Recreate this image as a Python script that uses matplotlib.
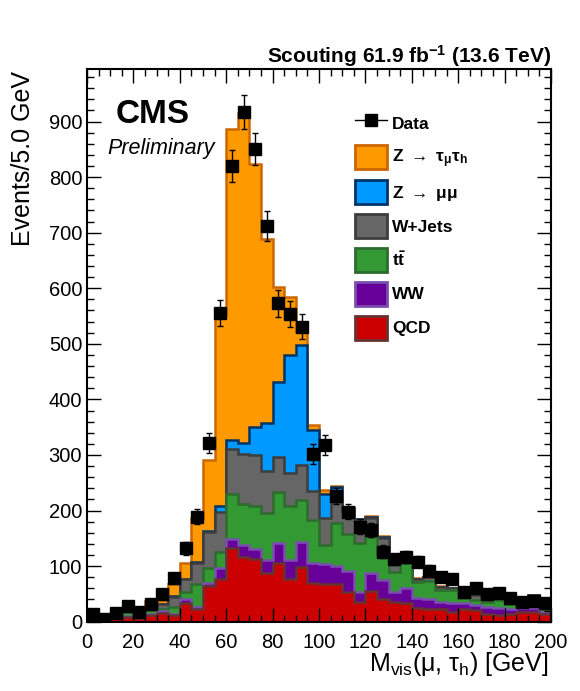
import numpy as np
import matplotlib.pyplot as plt
from matplotlib.patches import Patch
from matplotlib.lines import Line2D
from matplotlib.ticker import MultipleLocator

plt.rcParams.update({
    'font.family': ['Liberation Sans', 'DejaVu Sans'],
    'mathtext.fontset': 'custom',
    'mathtext.rm': 'Liberation Sans',
    'mathtext.it': 'Liberation Sans:italic',
    'mathtext.bf': 'Liberation Sans:bold',
})

# 5 GeV bins from 0 to 200 GeV
bin_edges = np.arange(0, 205, 5)

# events per bin
qcd = [3, 2, 6, 9, 7, 12, 15, 12, 34, 23, 64, 76, 132, 117, 112, 88, 106, 76, 99, 70,
       67, 67, 54, 35, 55, 40, 36, 33, 24, 22, 22, 18, 22, 21, 14, 12, 14, 18, 18, 14]
ww = [0, 0, 1, 1, 1, 1, 5, 2, 6, 4, 6, 20, 16, 21, 18, 23, 35, 35, 44, 35,
      36, 33, 38, 19, 32, 35, 17, 27, 18, 18, 14, 15, 11, 9, 13, 12, 8, 6, 6, 3]
ttbar = [1, 0, 3, 8, 1, 8, 3, 13, 14, 41, 26, 30, 82, 74, 78, 84, 92, 97, 76, 78,
         35, 77, 65, 87, 66, 45, 37, 46, 30, 34, 21, 24, 9, 9, 9, 15, 10, 2, 22, 5]
wjets = [0, 1, 2, 1, 1, 5, 9, 18, 22, 38, 66, 72, 80, 90, 92, 77, 64, 60, 63, 52,
         49, 39, 43, 42, 33, 30, 30, 7, 5, 6, 6, 3, 2, 9, 1, 1, 1, 1, 2, 1]
zmumu = [0, 0, 0, 0, 0, 0, 0, 1, 1, 1, 2, 10, 17, 19, 51, 85, 135, 212, 216, 110,
         43, 26, 5, 1, 3, 3, 1, 0, 0, 0, 0, 0, 0, 0, 0, 0, 0, 0, 0, 0]
ztautau = [1, 0, 1, 1, 1, 12, 7, 22, 29, 79, 127, 344, 559, 594, 472, 331, 171, 105, 24, 9,
           7, 2, 1, 1, 1, 2, 1, 1, 1, 1, 1, 0, 1, 0, 0, 0, 0, 0, 0, 0]
data = [14, 4, 15, 28, 18, 31, 49, 79, 132, 189, 322, 556, 820, 917, 851, 712, 573, 553, 531, 302,
        318, 226, 198, 171, 165, 126, 112, 116, 108, 92, 81, 76, 54, 60, 50, 51, 42, 36, 38, 34]

# bottom to top: label, values, fill, outline
samples = [
    ("QCD", qcd, '#cc0000', '#663333'),
    ("WW", ww, '#660099', '#7a4fb0'),
    (r"t$\mathbf{\bar{t}}$", ttbar, '#339933', '#2e6b2e'),
    ("W+Jets", wjets, '#666666', '#3d3d3d'),
    (r"Z $\rightarrow$ $\mathregular{\mu\mu}$", zmumu, '#0099ff', '#003366'),
    (r"Z $\rightarrow$ $\mathregular{\tau_{\mu}\tau}_{\mathbf{h}}$", ztautau, '#ff9900', '#cc6600'),
]

fig = plt.figure(figsize=(5.8, 6.91), dpi=100)
ax = fig.add_axes([0.15, 0.1003, 0.8, 0.7994])

stack = np.cumsum(np.array([s[1] for s in samples], dtype=float), axis=0)
# draw the full sums from the top down, like THStack
for i in reversed(range(len(samples))):
    ax.stairs(stack[i], bin_edges, baseline=0, fill=True,
              facecolor=samples[i][2], edgecolor=samples[i][3], linewidth=1.8)

centers = 0.5 * (bin_edges[1:] + bin_edges[:-1])
data = np.array(data, dtype=float)
ax.errorbar(centers, data, yerr=np.sqrt(data), fmt='s', color='black',
            ms=9, elinewidth=1, capsize=2.5, capthick=1, zorder=10)

ax.set_xlim(0, 200)
ax.set_ylim(0, 994)
ax.xaxis.set_major_locator(MultipleLocator(20))
ax.xaxis.set_minor_locator(MultipleLocator(5))
ax.yaxis.set_major_locator(MultipleLocator(100))
ax.yaxis.set_minor_locator(MultipleLocator(20))
ax.tick_params(which='both', direction='in', top=True, right=True, width=1, labelsize=14.5)
ax.tick_params(which='major', length=10)
ax.tick_params(which='minor', length=5)
ax.tick_params(axis='x', pad=8)
for sp in ax.spines.values():
    sp.set_linewidth(1.5)

# legend
handles = [Line2D([], [], color='black', marker='s', ms=9, lw=1)]
labels = ["Data"]
for lab, _, fc, ec in reversed(samples):
    handles.append(Patch(facecolor=fc, edgecolor=ec, linewidth=2))
    labels.append(lab)
ax.legend(handles, labels, loc='upper left', bbox_to_anchor=(355 / 580, 1 - 111 / 691),
          bbox_transform=fig.transFigure, frameon=False, borderpad=0, borderaxespad=0,
          prop={'weight': 'bold', 'size': 12.5}, handlelength=1.84, handleheight=1.75,
          handletextpad=0.3, labelspacing=0.57)

def px(x, y):
    return x / 580, 1 - y / 691

fig.text(*px(116, 123), "CMS", weight='bold', size=24, va='baseline')
fig.text(*px(107, 154), "Preliminary", style='italic', size=15.5, va='baseline')
fig.text(*px(551, 63), r"Scouting 61.9 fb$^{\mathbf{-1}}$ (13.6 TeV)", weight='bold',
         size=15, ha='right', va='baseline')
fig.text(*px(23, 71), "Events/5.0 GeV", rotation=90, size=18, ha='center', va='top')
fig.text(*px(549, 671), r"M$_{\mathregular{vis}}$(μ, τ$_{\mathregular{h}}$) [GeV]",
         size=18, ha='right', va='baseline')

fig.savefig('out.png', dpi=100)
